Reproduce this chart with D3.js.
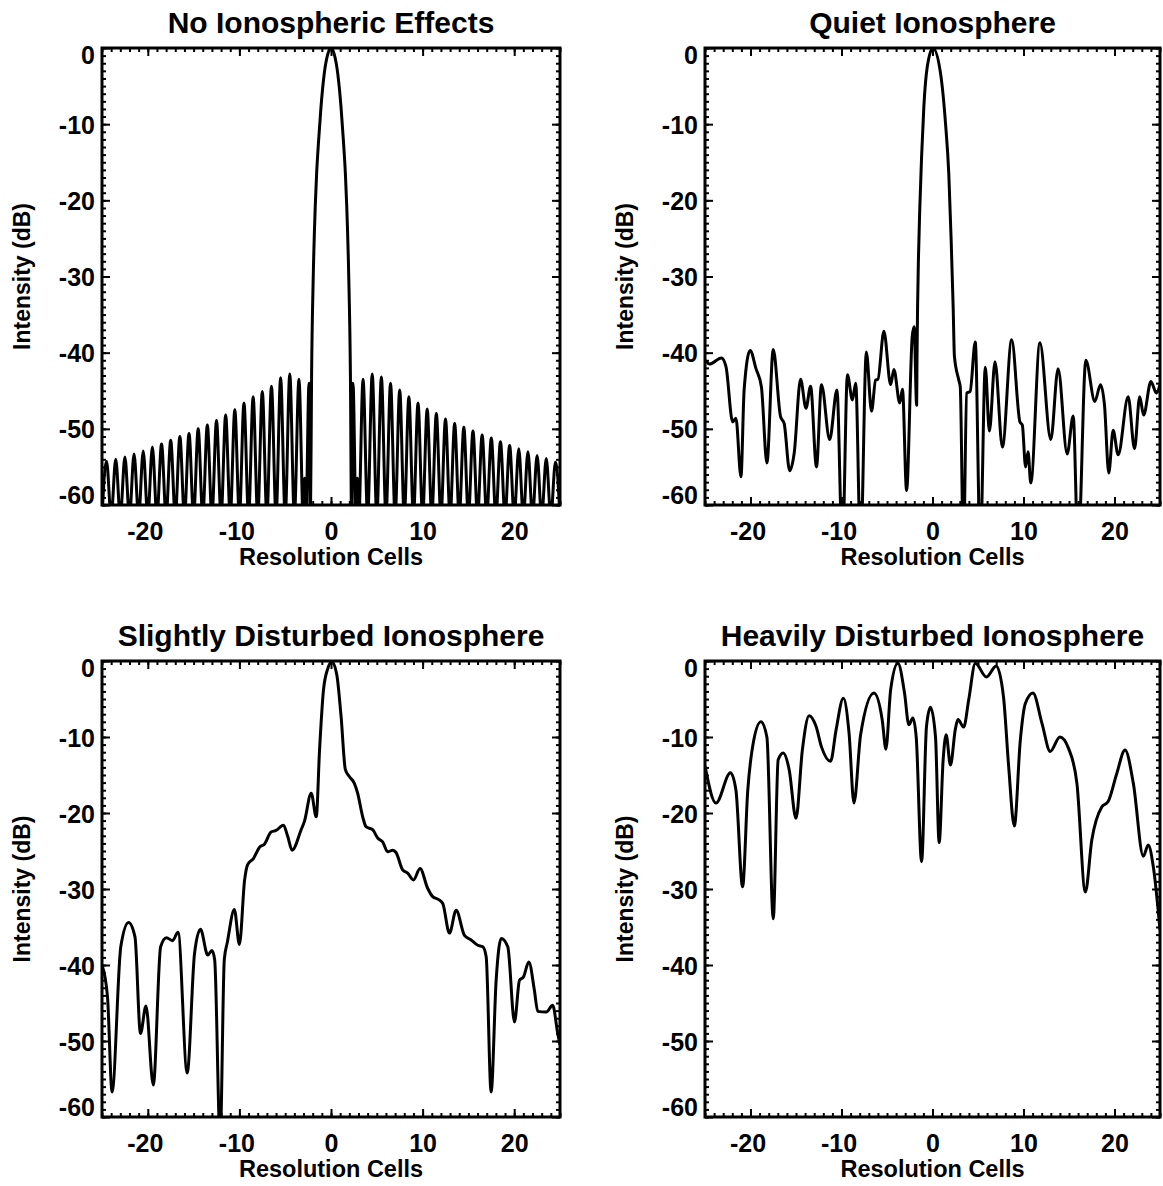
<!DOCTYPE html>
<html>
<head>
<meta charset="utf-8">
<script src="https://cdn.jsdelivr.net/npm/d3@7"></script>
<style>
  body { margin: 0; background: #fff; }
  svg text { font-family: "Liberation Sans", Arial, Helvetica, sans-serif; font-weight: bold; fill: #000; }
</style>
</head>
<body>
<svg id="chart" width="1163" height="1186"></svg>
<script>
// ---- data ----
const cellTicks = [-20, -10, 0, 10, 20];
const dbTicks = [0, -10, -20, -30, -40, -50, -60];
const panelTitles = ['No Ionospheric Effects', 'Quiet Ionosphere', 'Slightly Disturbed Ionosphere', 'Heavily Disturbed Ionosphere'];

// no ionospheric effects: sidelobe peaks, nulls (just below the axis) and the main lobe
const NULL_DB = -61.5;
const cleanPeakX = [-24.5, -23.5, -22.5, -21.5, -20.5, -19.5, -18.5, -17.5, -16.5, -15.5, -14.5,
  -13.5, -12.5, -11.5, -10.5, -9.5, -8.5, -7.5, -6.5, -5.5, -4.5, -3.5,
  3.5, 4.5, 5.5, 6.5, 7.5, 8.5, 9.5, 10.5, 11.5, 12.5, 13.5,
  14.5, 15.5, 16.5, 17.5, 18.5, 19.5, 20.5, 21.5, 22.5, 23.5, 24.5];
const cleanPeakDb = [-54.3, -54.0, -53.7, -53.3, -52.9, -52.4, -52.0, -51.5, -51.0, -50.6, -50.0,
  -49.5, -48.9, -48.2, -47.5, -46.6, -45.8, -45.1, -44.4, -43.3, -42.8, -43.5,
  -43.5, -42.8, -43.2, -44.0, -44.9, -45.8, -46.6, -47.4, -48.0, -48.7, -49.3,
  -49.8, -50.3, -50.8, -51.2, -51.7, -52.2, -52.6, -53.0, -53.5, -53.9, -54.4];
const cleanNullX = [-25, -24, -23, -22, -21, -20, -19, -18, -17, -16, -15, -14, -13, -12, -11, -10, -9, -8, -7, -6, -5, -4,
  4, 5, 6, 7, 8, 9, 10, 11, 12, 13, 14, 15, 16, 17, 18, 19, 20, 21, 22, 23, 24, 25];
const cleanMainX = [-3.0, -2.88, -2.75, -2.4, -2.25, -2.12, -1.93, -1.72, -1.57, -1.35, -1.09, -0.73, -0.35, 0,
  0.35, 0.73, 1.09, 1.35, 1.57, 1.72, 1.93, 2.12, 2.25, 2.4, 2.75, 2.88, 3.0];
const cleanMainDb = [-63, -56.5, -63, -44.0, -63, -43.0, -29.6, -20.8, -16.5, -12.1, -7.7, -3.3, -0.8, 0,
  -0.8, -3.3, -7.7, -12.1, -16.5, -20.8, -29.6, -43.0, -63, -44.0, -63, -56.5, -63];

// quiet ionosphere
const quietX = [-25.0, -24.5, -23.2, -22.7, -21.96, -21.6, -21.05, -20.7, -20.04, -19.4,
  -18.8, -18.2, -17.5, -16.7, -16.3, -15.7, -15.2, -14.5, -13.9, -13.4,
  -12.75, -12.2, -11.3, -10.5, -9.9, -9.35, -8.8, -8.44, -7.9, -7.27,
  -6.7, -6.25, -6.0, -5.34, -4.6, -4.24, -3.6, -3.3, -2.85, -2.23,
  -2.02, -1.74, -1.70, -1.64, -1.54, -1.39, -1.2, -0.95, -0.58, 0.05,
  0.88, 1.43, 1.79, 2.05, 2.27, 2.41, 2.89, 3.05, 3.4, 3.76,
  4.13, 4.7, 5.25, 5.8, 6.25, 6.87, 7.68, 8.7, 9.61, 9.87,
  10.23, 10.5, 10.8, 11.8, 13.0, 13.8, 14.8, 15.46, 16.0, 16.85,
  17.84, 18.46, 18.9, 19.37, 19.85, 20.4, 21.5, 22.2, 22.77, 23.2,
  24.0, 24.6, 25.0];
const quietDb = [-41.0, -41.5, -40.7, -41.8, -49.1, -48.6, -56.3, -44.9, -39.7, -42.1,
  -44.5, -54.5, -39.6, -48.4, -49.3, -55.5, -53.2, -43.5, -47.3, -44.4,
  -55.0, -44.2, -51.4, -44.9, -66, -42.9, -46.2, -44.0, -66, -39.9,
  -47.7, -43.6, -43.5, -37.2, -44.2, -42.2, -46.6, -44.8, -58.1, -37.9,
  -36.6, -46.9, -40.5, -34.0, -27.4, -20.8, -14.3, -7.7, -2.5, 0,
  -3.3, -9.9, -16.5, -25.2, -34.0, -40.5, -43.6, -44.5, -66, -45.3,
  -45.1, -38.6, -66, -41.9, -50.3, -41.2, -52.4, -38.3, -49.1, -49.5,
  -55.0, -53.0, -57.1, -38.7, -51.4, -42.1, -53.3, -48.3, -66, -41.0,
  -46.4, -44.2, -46.9, -55.8, -50.2, -53.4, -45.8, -52.6, -45.8, -48.2,
  -43.8, -45.3, -44.2];

// slightly disturbed ionosphere
const slightX = [-25.0, -24.4, -23.9, -22.95, -22.1, -21.4, -20.8, -20.2, -19.4, -18.6,
  -17.97, -17.3, -16.7, -15.7, -14.9, -14.25, -13.45, -13.0, -12.7, -12.1,
  -11.65, -11.3, -10.55, -10.0, -9.43, -9.1, -8.47, -7.8, -7.27, -6.54,
  -6.0, -5.19, -4.72, -4.25, -3.26, -2.9, -2.16, -1.61, -1.25, -0.82,
  -0.35, 0.09, 0.63, 1.1, 1.57, 2.0, 2.55, 2.91, 3.46, 3.82,
  4.55, 5.1, 5.64, 6.19, 6.74, 7.1, 7.83, 8.37, 9.0, 9.72,
  10.55, 11.1, 11.75, 12.2, 12.93, 13.66, 14.57, 15.3, 16.03, 16.57,
  16.94, 17.48, 18.03, 18.58, 19.3, 20.03, 20.58, 21.0, 21.6, 22.2,
  22.57, 23.5, 24.2, 24.75, 25.0];
const slightDb = [-40.0, -44.2, -56.7, -37.6, -34.4, -36.3, -49.0, -45.4, -55.8, -37.6,
  -36.4, -36.8, -35.7, -54.2, -38.5, -35.3, -38.7, -38.1, -39.3, -63,
  -39.3, -36.9, -32.7, -37.3, -28.8, -26.8, -26.0, -24.5, -24.1, -22.5,
  -22.3, -21.6, -23.1, -24.9, -22.2, -21.1, -17.4, -20.5, -11.7, -3.8,
  -1.0, -0.1, -1.8, -7.3, -14.3, -15.2, -16.1, -17.4, -20.5, -21.8,
  -22.2, -23.3, -23.8, -25.1, -24.9, -25.2, -27.5, -27.9, -28.8, -27.3,
  -29.9, -31.0, -31.4, -31.9, -35.8, -32.8, -36.1, -36.7, -37.4, -37.6,
  -38.9, -56.7, -42.0, -36.5, -37.6, -47.5, -42.0, -41.6, -39.6, -43.3,
  -46.1, -46.2, -45.3, -49.0, -50.5];

// heavily disturbed ionosphere
const heavyX = [-25.0, -23.8, -22.2, -21.6, -20.87, -20.3, -19.77, -18.86, -18.2, -17.5,
  -16.96, -16.4, -15.75, -15.0, -14.3, -13.55, -12.8, -12.2, -11.2, -10.6,
  -9.8, -9.17, -8.63, -7.9, -6.43, -5.52, -5.12, -4.6, -3.8, -3.07,
  -2.6, -2.16, -1.79, -1.2, -0.66, -0.22, 0.33, 0.73, 1.17, 1.5,
  1.97, 2.52, 2.8, 3.43, 3.98, 4.71, 5.92, 7.0, 7.8, 8.37,
  8.99, 9.65, 10.2, 11.04, 12.03, 12.94, 14.0, 14.95, 15.87, 16.8,
  17.5, 18.6, 19.3, 20.25, 21.16, 22.07, 23.17, 23.7, 24.27, 25.0];
const heavyDb = [-13.8, -18.7, -14.7, -17.0, -29.7, -17.0, -11.3, -8.0, -10.0, -33.9,
  -13.0, -12.1, -14.3, -20.7, -11.7, -7.2, -8.6, -11.3, -13.2, -9.1,
  -4.9, -9.5, -18.7, -9.7, -4.2, -7.8, -11.6, -3.8, -0.3, -4.25,
  -8.4, -7.5, -10.0, -26.4, -8.6, -6.1, -10.0, -23.9, -13.0, -9.7,
  -13.7, -8.9, -7.7, -8.7, -5.1, -0.3, -2.1, -0.66, -4.7, -13.9,
  -21.7, -10.4, -5.6, -4.2, -8.2, -11.9, -10.0, -11.5, -16.1, -30.4,
  -23.6, -19.2, -18.5, -14.8, -11.7, -16.1, -25.7, -24.2, -27.1, -35.4];

// ---- drawing ----
class ResponsePanel {
  constructor(_config, _data) {
    this.config = {
      parentElement: _config.parentElement,
      left: _config.left,
      top: _config.top,
      width: _config.width || 456,
      height: _config.height || 457,
      title: _config.title,
      clipId: _config.clipId
    }
    this.data = _data; // array of [cell, dB]
    this.initVis();
  }
  initVis() {
    let vis = this;
    const c = vis.config;

    vis.chart = d3.select(c.parentElement).append('g')
      .attr('transform', `translate(${c.left},${c.top})`);

    vis.x = d3.scaleLinear().domain([-25, 25]).range([0, c.width]);
    vis.y = d3.scaleLinear().domain([-60, 0]).range([c.height, 0]);

    vis.chart.append('clipPath').attr('id', c.clipId)
      .append('rect').attr('width', c.width).attr('height', c.height);

    vis.line = d3.line()
      .x(d => vis.x(d[0]))
      .y(d => vis.y(d[1]))
      .curve(d3.curveMonotoneX);

    vis.chart.append('path')
      .datum(vis.data)
      .attr('clip-path', `url(#${c.clipId})`)
      .attr('d', vis.line)
      .attr('fill', 'none')
      .attr('stroke', '#000')
      .attr('stroke-width', 3)
      .attr('stroke-linejoin', 'round');

    // inward ticks on all four sides, minor every 1 unit
    const minorX = d3.range(-25, 26, 1);
    const minorY = d3.range(-60, 1, 1);
    const plain = d => String(d); // hyphen minus like the original
    const addAxis = (axis, tx, ty) => {
      const g = vis.chart.append('g').attr('transform', `translate(${tx},${ty})`).call(axis);
      g.select('.domain').remove();
      g.attr('font-family', null).attr('font-size', null);
      g.selectAll('.tick line').attr('stroke', '#000').attr('stroke-width', 2);
      return g;
    };
    addAxis(d3.axisBottom(vis.x).tickValues(minorX).tickSize(-4).tickFormat(''), 0, c.height);
    addAxis(d3.axisTop(vis.x).tickValues(minorX).tickSize(-4).tickFormat(''), 0, 0);
    addAxis(d3.axisLeft(vis.y).tickValues(minorY).tickSize(-4).tickFormat(''), 0, 0);
    addAxis(d3.axisRight(vis.y).tickValues(minorY).tickSize(-4).tickFormat(''), c.width, 0);
    addAxis(d3.axisTop(vis.x).tickValues(cellTicks).tickSize(-8).tickFormat(''), 0, 0);
    addAxis(d3.axisRight(vis.y).tickValues(dbTicks).tickSize(-8).tickFormat(''), c.width, 0);

    const xAxisG = addAxis(d3.axisBottom(vis.x).tickValues(cellTicks).tickSize(-8).tickPadding(17).tickFormat(plain), 0, c.height);
    xAxisG.selectAll('.tick text')
      .attr('dx', d => d < 0 ? -3 : 0)
      .style('font-size', '25px');

    const yAxisG = addAxis(d3.axisLeft(vis.y).tickValues(dbTicks).tickSize(-8).tickPadding(7).tickFormat(plain), 0, 0);
    yAxisG.selectAll('.tick text')
      .style('font-size', '25px')
      .attr('dy', 0)
      .attr('y', d => d === 0 ? 15.5 : (d === -60 ? -2 : 9));

    vis.chart.append('rect')
      .attr('width', c.width).attr('height', c.height)
      .attr('fill', 'none').attr('stroke', '#000').attr('stroke-width', 3);

    vis.chart.append('text')
      .attr('x', c.width / 2).attr('y', -15)
      .attr('text-anchor', 'middle')
      .style('font-size', '30px')
      .text(c.title);

    vis.chart.append('text')
      .attr('x', c.width / 2).attr('y', c.height + 60)
      .attr('text-anchor', 'middle')
      .style('font-size', '23.5px')
      .text('Resolution Cells');

    vis.chart.append('text')
      .attr('transform', `translate(-72,${c.height / 2}) rotate(-90)`)
      .attr('text-anchor', 'middle')
      .style('font-size', '23px')
      .text('Intensity (dB)');
  }
}

const zip = (xs, ys) => xs.map((v, i) => [v, ys[i]]);

const cleanData = zip(cleanPeakX, cleanPeakDb)
  .concat(cleanNullX.map(v => [v, NULL_DB]))
  .concat(zip(cleanMainX, cleanMainDb))
  .sort((a, b) => a[0] - b[0]);

new ResponsePanel({ parentElement: '#chart', left: 102, top: 48, width: 458, height: 457, title: panelTitles[0], clipId: 'clip0' }, cleanData);
new ResponsePanel({ parentElement: '#chart', left: 705, top: 48, width: 455, height: 457, title: panelTitles[1], clipId: 'clip1' }, zip(quietX, quietDb));
new ResponsePanel({ parentElement: '#chart', left: 102, top: 661, width: 458, height: 456, title: panelTitles[2], clipId: 'clip2' }, zip(slightX, slightDb));
new ResponsePanel({ parentElement: '#chart', left: 705, top: 661, width: 455, height: 456, title: panelTitles[3], clipId: 'clip3' }, zip(heavyX, heavyDb));
</script>
</body>
</html>
